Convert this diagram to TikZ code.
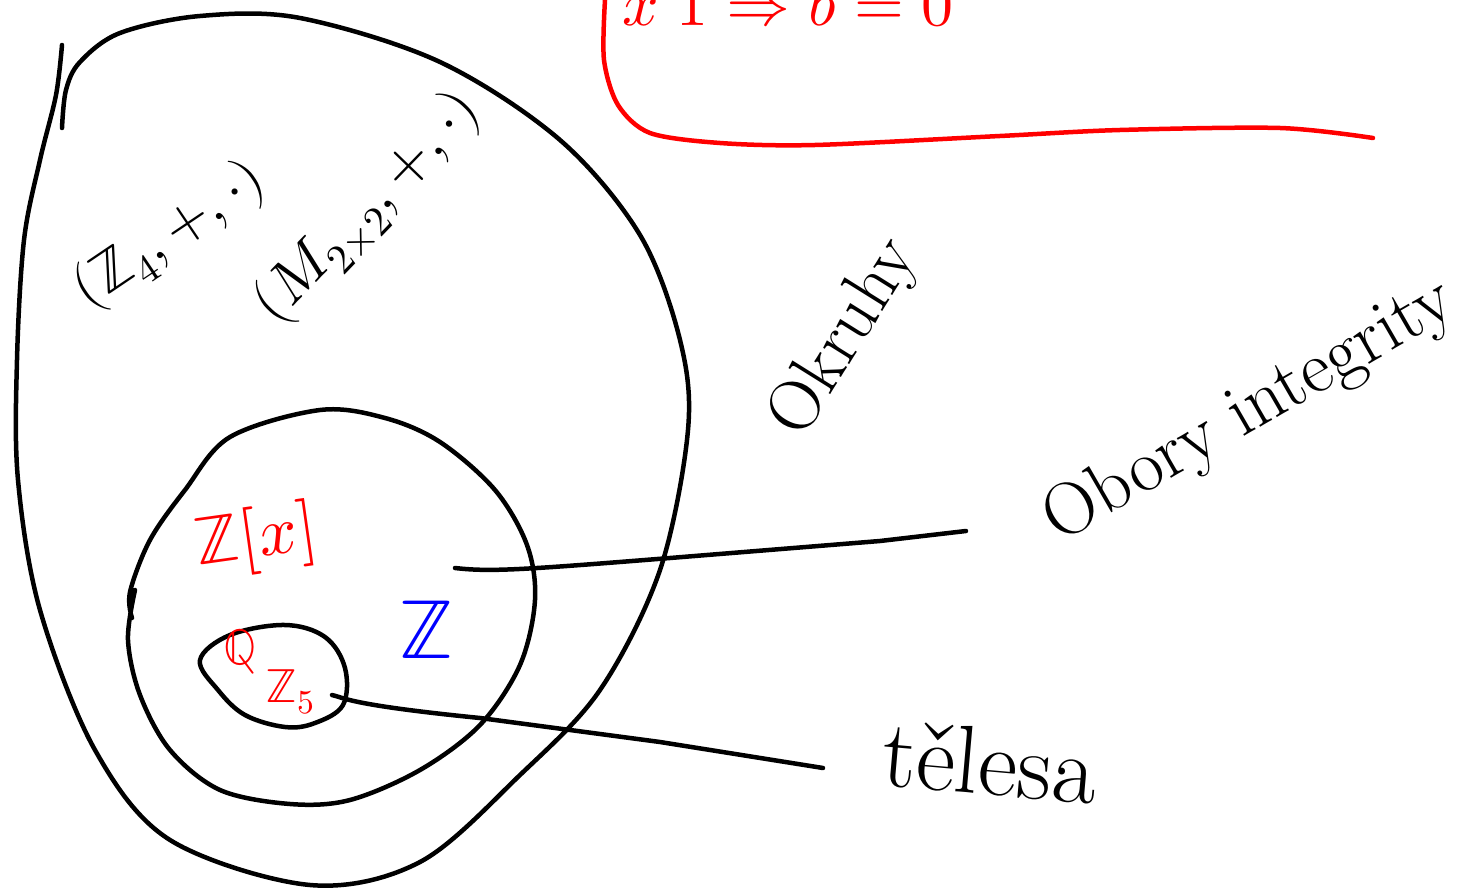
\documentclass[tikz,border=0pt]{standalone}
\usepackage{fontspec}
\usepackage{unicode-math}
\setmathfont{Latin Modern Math}
\tikzset{
  pen/.style={line width=4.5pt, line cap=round, line join=round},
  blackpen/.style={pen, draw=black},
  redpen/.style={pen, draw=red},
  lbl/.style={inner sep=0pt, font=\fontsize{#1}{#1}\selectfont},
}
\begin{document}
\begin{tikzpicture}[x=1pt, y=-1pt]
  \useasboundingbox (0,0) rectangle (1468,890);
  \clip (0,0) rectangle (1468,890);

  % red frame around the equation at the top
  \draw[redpen] plot[smooth, tension=0.5] coordinates {(605,0) (604,60) (618,105) (650,133) (720,143) (815,145) (1000,136) (1120,130) (1280,128) (1373,138)};
  \node[lbl=64, text=red, anchor=base west] (eq) at (622,26) {$x\;1 \Rightarrow b = 0$};

  % outer region: rings
  \draw[blackpen] plot[smooth, tension=0.55] coordinates {(62,45) (56,95) (40,160) (24,240) (17,360) (18,480) (40,610) (95,750) (170,840) (310,885) (420,862) (520,775) (600,690) (660,570) (688,430) (680,340) (640,235) (560,140) (440,62) (300,18) (200,16) (120,33) (80,62) (66,90) (62,128)};
  \node[lbl=72, rotate=58] (okruhy) at (845,338) {Okruhy};

  % ring examples
  \node[lbl=58, rotate=34] (zn) at (170,236) {$(\mathbb{Z}_4,+,\cdot)$};
  \node[lbl=60, rotate=46] (mn) at (368,208) {$(M_{2\times 2},+,\cdot)$};

  % middle region: integral domains
  \draw[blackpen] plot[smooth, tension=0.55] coordinates {(132,618) (130,592) (150,540) (185,490) (230,437) (320,410) (385,418) (440,442) (495,490) (527,545) (535,600) (520,665) (480,725) (420,770) (350,800) (290,804) (220,790) (170,750) (140,695) (128,640) (135,590)};
  \node[lbl=68, text=red, rotate=8] (zx) at (256,540) {$\mathbb{Z}[x]$};
  \node[lbl=84, text=blue] (zz) at (427,630) {$\mathbb{Z}$};

  % inner region: fields
  \draw[blackpen] plot[smooth cycle, tension=0.6] coordinates {(200,660) (230,635) (285,625) (325,637) (345,668) (343,705) (315,723) (285,727) (245,715) (218,690)};
  \node[lbl=50, text=red] (q) at (240,652) {$\mathbb{Q}$};
  \node[lbl=48, text=red] (z5) at (290,692) {$\mathbb{Z}_5$};

  % labels with their leader lines
  \node[lbl=74, rotate=30] (obory) at (1250,412) {Obory integrity};
  \node[lbl=96, rotate=-5] (telesa) at (990,762) {tělesa};

  \coordinate (a1) at (455,568);
  \coordinate (a2) at (966,531);
  \coordinate (b1) at (332,695);
  \coordinate (b2) at (823,768);
  \draw[blackpen] (a1) .. controls (490,572) and (520,570) .. (670,558) -- (880,541) -- (a2);
  \draw[blackpen] (b1) .. controls (345,698) and (350,705) .. (480,718) -- (660,742) -- (b2);
\end{tikzpicture}
\end{document}
